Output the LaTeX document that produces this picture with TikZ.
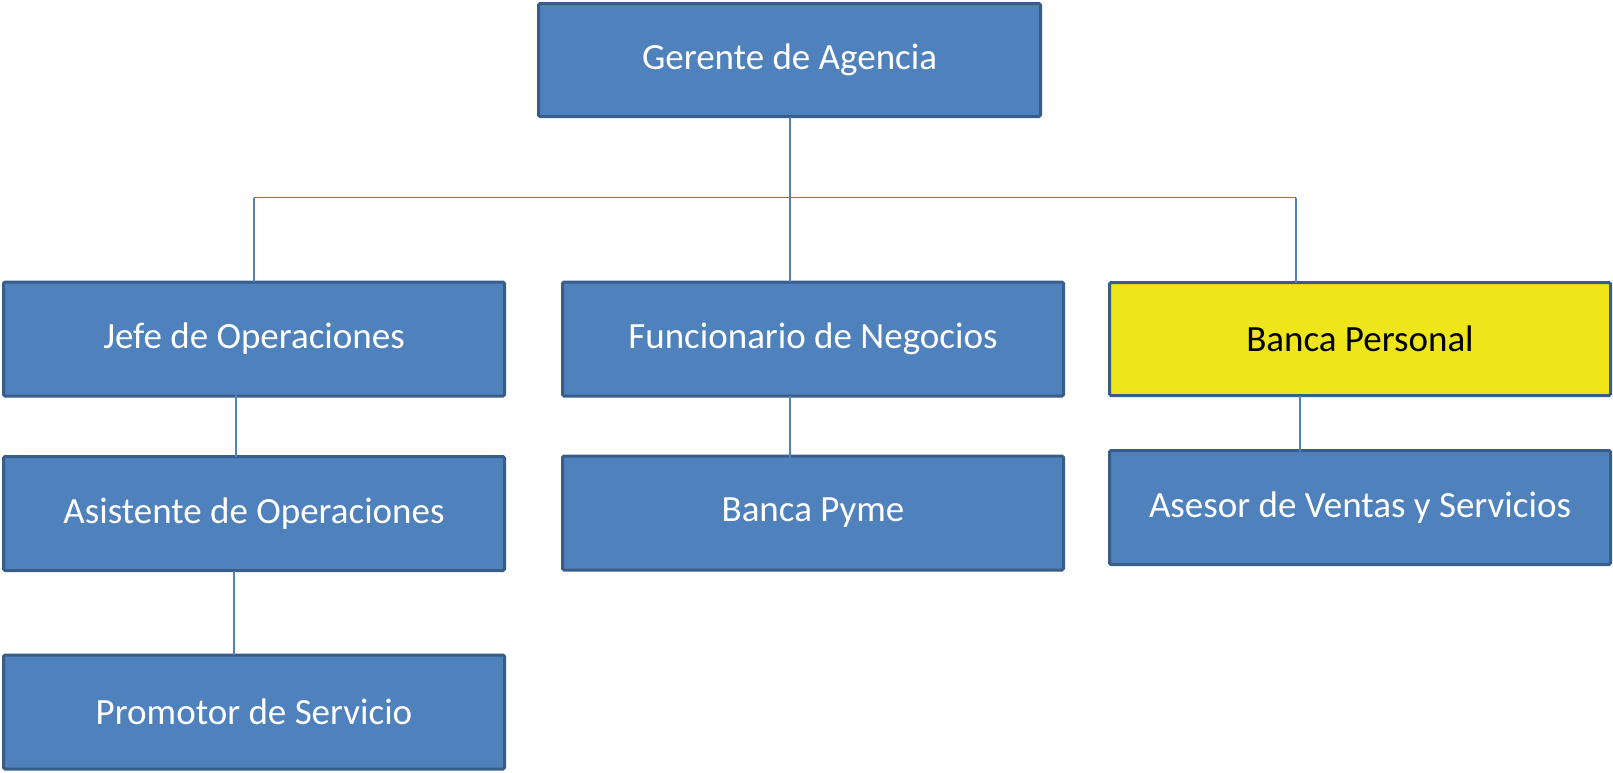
\documentclass[tikz,border=0pt]{standalone}
\usepackage{fontspec}
\setmainfont{Carlito}
\definecolor{boxblue}{HTML}{4F81BD}
\definecolor{boxedge}{HTML}{385D8A}
\definecolor{boxyellow}{HTML}{EFE619}
\begin{document}
\begin{tikzpicture}[x=1pt,y=-1pt,
  orgbox/.style={draw=boxedge, line width=3pt, fill=boxblue, rounded corners=1.5pt,
    minimum width=501pt, minimum height=114pt, inner sep=0pt, outer sep=0pt,
    text=white, font=\fontsize{37}{44}\selectfont},
  yellowbox/.style={orgbox, fill=boxyellow, text=black},
  conn/.style={draw=boxblue, line width=1.3pt}]
\useasboundingbox (0,0) rectangle (1613,772);
\node[orgbox, minimum width=502pt, minimum height=113pt] (ger) at (789.5,60) {Gerente de Agencia};
\node[orgbox] (jefe) at (254,339) {Jefe de Operaciones};
\node[orgbox] (asis) at (254,513.5) {Asistente de Operaciones};
\node[orgbox] (prom) at (254,712) {Promotor de Servicio};
\node[orgbox] (func) at (813,339) {Funcionario de Negocios};
\node[orgbox] (pyme) at (813,513) {Banca Pyme};
\node[yellowbox, minimum height=113pt] (pers) at (1360,339) {Banca Personal};
\node[orgbox] (ases) at (1360,507.5) {Asesor de Ventas y Servicios};
\coordinate (bl) at (254,197.5);
\coordinate (bm) at (790,197.5);
\coordinate (br) at (1296,197.5);
\coordinate (ja) at (236,373);
\coordinate (ap) at (234,0);
\coordinate (fp) at (790,0);
\coordinate (pa) at (1300,0);
\draw[conn] (ger.south -| bm) -- (bm);
\draw[conn] (bl) -- (br);
\draw[conn] (bl) -- (bl |- jefe.north);
\draw[conn] (bm) -- (bm |- func.north);
\draw[conn] (br) -- (br |- pers.north);
\draw[conn] (ja) -- (ja |- asis.north);
\draw[conn] (asis.south -| ap) -- (prom.north -| ap);
\draw[conn] (func.south -| fp) -- ([yshift=-6pt]pyme.north -| fp);
\draw[conn] (pers.south -| pa) -- ([yshift=-29pt]ases.north -| pa);
\end{tikzpicture}
\end{document}
